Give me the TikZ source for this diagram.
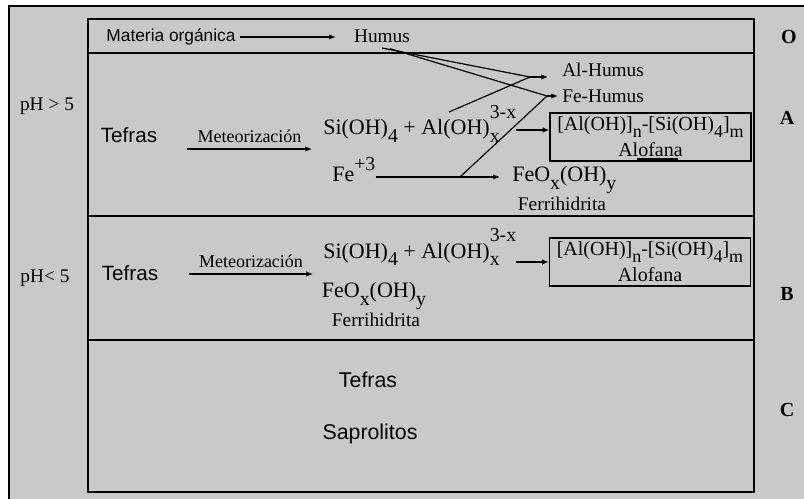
\documentclass[tikz,border=0pt]{standalone}
\usepackage{fontspec}
\setmainfont{Liberation Serif}
\newfontfamily\arialfont{Liberation Sans}
\usetikzlibrary{arrows.meta}
\definecolor{bggray}{HTML}{C9C9C9}
\newcommand{\chsub}[1]{\raisebox{-0.75ex}{\scalebox{0.9}{#1}}}
\newcommand{\chsup}[1]{\raisebox{1.1ex}{\scalebox{0.9}{#1}}}
\newcommand{\chsubsup}[2]{\makebox[0pt][l]{\chsub{#1}}\raisebox{1.6ex}{\scalebox{0.9}{#2}}}
\tikzset{
  chem/.style={inner sep=0pt,font=\fontsize{14.5}{17}\selectfont},
  eqn/.style={inner sep=0pt,font=\fontsize{16.5}{19}\selectfont},
  sans/.style={inner sep=0pt,font=\arialfont\fontsize{15.5}{18}\selectfont},
  sanssmall/.style={inner sep=0pt,font=\arialfont\fontsize{13}{16}\selectfont},
  sansbig/.style={inner sep=0pt,font=\arialfont\fontsize{16}{19}\selectfont},
  meteo/.style={inner sep=0pt,font=\fontsize{13.5}{16}\selectfont},
  horizon/.style={inner sep=0pt,font=\bfseries\fontsize{15}{18}\selectfont},
  alofana/.style={draw,line width=1pt,inner sep=0pt,minimum width=150.75pt,minimum height=36pt,align=center,font=\fontsize{15}{19.5}\selectfont},
  rxn/.style={-{Latex[length=5pt,width=4pt]},line width=0.9pt},
  sep/.style={line width=2.2pt},
}
\begin{document}
\begin{tikzpicture}[x=0.75pt,y=-0.75pt]
\useasboundingbox (0,0) rectangle (804,499);
\fill[bggray] (9,6) rectangle (804,499);
\draw[line width=1.5pt] (9,499) -- (9,6) -- (804,6);
\draw[line width=1.4pt] (88,19) rectangle (754,492);
\draw[sep] (88,53) -- (754,53);
\draw[sep] (88,216) -- (754,216);
\draw[sep] (88,340) -- (754,340);
% horizontes
\node[horizon] (hO) at (789,37) {O};
\node[horizon] (hA) at (787,118) {A};
\node[horizon] (hB) at (787,294) {B};
\node[horizon] (hC) at (787,410) {C};
% horizonte O
\node[sanssmall] (mo) at (171,37) {Materia orgánica};
\node[chem] (hum) at (382,36) {Humus};
\draw[rxn] ([xshift=3pt]mo.east) -- ([xshift=-13.5pt]hum.west |- mo.east);
% horizonte A
\node[chem] (phA) at (47,106) {pH > 5};
\node[sans] (tefA) at (129,135) {Tefras};
\coordinate (mA1) at (187,149);
\coordinate (mA2) at (312,149);
\draw[rxn] (mA1) -- node[meteo,above=4pt] (meA) {Meteorización} (mA2);
\node[eqn,anchor=base west] (eqA) at (323,135) {Si(OH)\chsub{4} + Al(OH)\chsubsup{x}{3-x}};
\node[alofana] (bxA) at (650.5,137) {[Al(OH)]\chsub{n}-[Si(OH)\chsub{4}]\chsub{m}\\Alofana};
\draw[line width=0.8pt] (637,159) -- (678,159);
\coordinate (aA) at (516,130);
\draw[rxn] (aA) -- (aA -| bxA.west);
\node[chem,anchor=base west] (alh) at (562,77) {Al-Humus};
\node[chem,anchor=west] (feh) at (562,96) {Fe-Humus};
\coordinate (jAl) at (530,77);
\coordinate (jFe) at (547,96);
\coordinate (sAl) at (449,112);
\coordinate (sFe) at (460,177);
\draw[line width=0.9pt] ([yshift=-4pt]hum.south) -- (jAl);
\draw[line width=0.9pt] ([xshift=6pt,yshift=-4.5pt]hum.south) -- (jFe);
\draw[line width=0.9pt] (sAl) -- (jAl);
\draw[line width=0.9pt] (sFe) -- (jFe);
\draw[rxn] (jAl) -- ([xshift=-10.5pt]alh.base west);
\draw[rxn] (jFe) -- ([xshift=-3pt]feh.west);
\node[eqn,anchor=base west] (fe3) at (332,182) {Fe\chsup{+3}};
\node[eqn,anchor=base west] (feoA) at (512,182) {FeO\chsub{x}(OH)\chsub{y}};
\node[chem] (ferA) at (562,204) {Ferrihidrita};
\coordinate (fA) at (373,177);
\draw[rxn,shorten >=9pt] (fe3.east |- fA) -- (feoA.west |- fA);
% horizonte B
\node[chem] (phB) at (45,278) {pH< 5};
\node[sans] (tefB) at (130,273) {Tefras};
\coordinate (mB1) at (189,274);
\coordinate (mB2) at (313,274);
\draw[rxn] (mB1) -- node[meteo,above=4pt] (meB) {Meteorización} (mB2);
\node[eqn,anchor=base west] (eqB) at (323,258) {Si(OH)\chsub{4} + Al(OH)\chsubsup{x}{3-x}};
\node[alofana] (bxB) at (650,262) {[Al(OH)]\chsub{n}-[Si(OH)\chsub{4}]\chsub{m}\\Alofana};
\coordinate (aB) at (516,262);
\draw[rxn] (aB) -- (aB -| bxB.west);
\node[eqn] (feoB) at (374,296) {FeO\chsub{x}(OH)\chsub{y}};
\node[chem] (ferB) at (376,320) {Ferrihidrita};
% horizonte C
\node[sansbig] (tefC) at (368,380) {Tefras};
\node[sansbig] (sapC) at (370,434) {Saprolitos};
\end{tikzpicture}
\end{document}
